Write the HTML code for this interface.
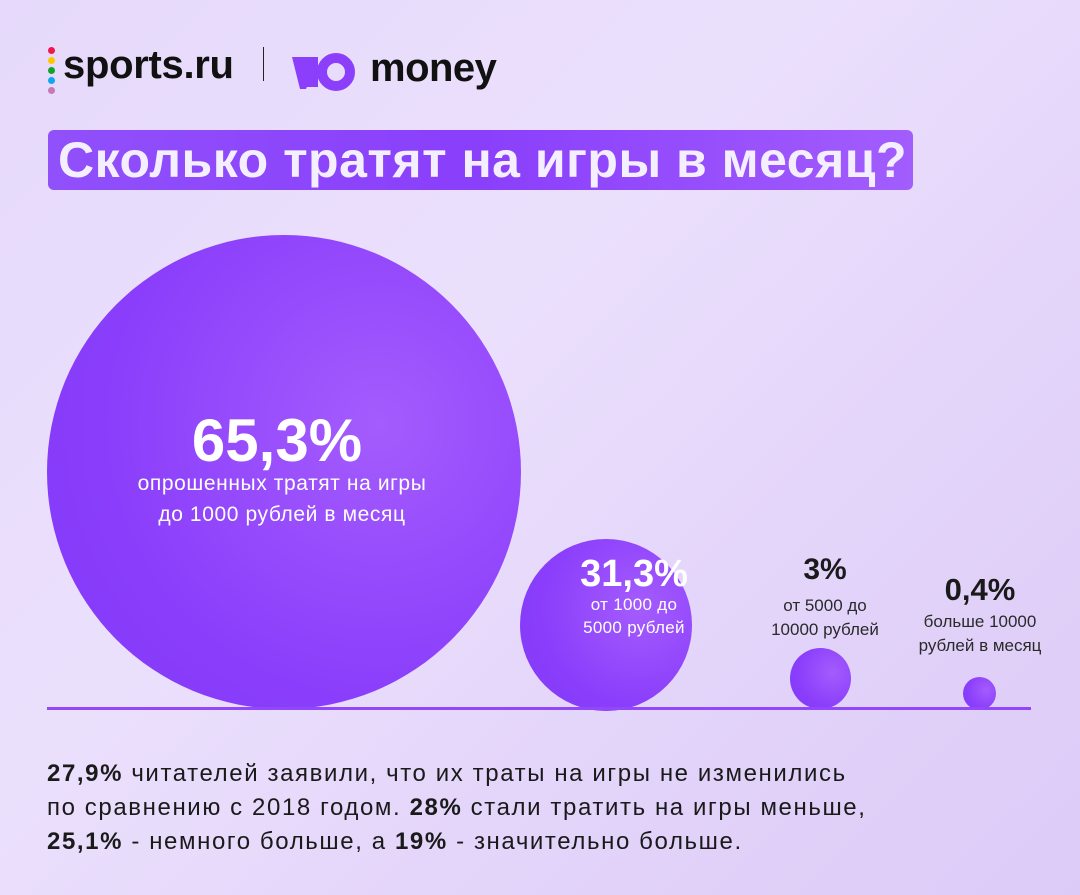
<!DOCTYPE html>
<html><head><meta charset="utf-8"><style>
body{margin:0;width:1080px;height:895px;overflow:hidden;font-family:"Liberation Sans",sans-serif;}
.bg{position:absolute;inset:0;background:linear-gradient(135deg,#e6d9fb 0%,#ebe0fc 40%,#e3d4fa 70%,#dccbf7 100%);}
.a{position:absolute;}
.c{position:absolute;border-radius:50%;background:radial-gradient(circle at 70% 40%,#a45cfd 0%,#8b3ffb 60%,#8037f9 100%);}
.t{position:absolute;text-align:center;}
</style></head><body><div class="bg"></div>
<div class="a" style="left:48px;top:47px;width:7px">
<div style="width:7px;height:7px;border-radius:50%;background:#f0174f;margin-bottom:3px"></div>
<div style="width:7px;height:7px;border-radius:50%;background:#fbc800;margin-bottom:3px"></div>
<div style="width:7px;height:7px;border-radius:50%;background:#12a429;margin-bottom:3px"></div>
<div style="width:7px;height:7px;border-radius:50%;background:#11a6f0;margin-bottom:3px"></div>
<div style="width:7px;height:7px;border-radius:50%;background:#c67ab2"></div></div>
<div class="a" style="left:63px;top:43px;font-size:40px;font-weight:bold;color:#111;letter-spacing:-0.3px">sports.ru</div>
<div class="a" style="left:263px;top:47px;width:1px;height:34px;background:#222"></div>
<svg class="a" style="left:292px;top:52px" width="66" height="44"><polygon points="0,5 14,5 20,25 14,37 8,37" fill="#8b3ffb"/><rect x="14" y="5" width="12" height="30" fill="#8b3ffb"/><circle cx="44" cy="20" r="14" fill="none" stroke="#8b3ffb" stroke-width="10"/></svg>
<div class="a" style="left:370px;top:46px;font-size:40px;font-weight:bold;color:#111;letter-spacing:-0.5px">money</div>
<div class="a" style="left:48px;top:130px;width:865px;height:60px;border-radius:6px;background:linear-gradient(90deg,#9050fb,#8a3ffb 50%,#a25dfd)"></div>
<div class="a" style="left:58px;top:130px;font-size:50px;line-height:60px;font-weight:bold;color:#f4efff;letter-spacing:0.5px">Сколько тратят на игры в месяц?</div>
<div class="c" style="left:47px;top:235px;width:474px;height:474px"></div>
<div class="c" style="left:520px;top:539px;width:172px;height:172px"></div>
<div class="c" style="left:790px;top:648px;width:61px;height:61px"></div>
<div class="c" style="left:963px;top:677px;width:33px;height:33px"></div>
<div class="a" style="left:47px;top:707px;width:984px;height:3px;background:#9347fb"></div>
<div class="t" style="left:77px;top:408px;width:400px;font-size:60px;font-weight:bold;color:#fff;line-height:66px">65,3%</div>
<div class="t" style="left:62px;top:468px;width:440px;font-size:21px;color:#fff;line-height:31px;letter-spacing:0.6px">опрошенных тратят на игры<br>до 1000 рублей в месяц</div>
<div class="t" style="left:548px;top:552px;width:172px;font-size:38px;font-weight:bold;color:#fff;line-height:44px">31,3%</div>
<div class="t" style="left:548px;top:593px;width:172px;font-size:17px;color:#fff;line-height:23px;letter-spacing:0.3px">от 1000 до<br>5000 рублей</div>
<div class="t" style="left:765px;top:552px;width:120px;font-size:30px;font-weight:bold;color:#1a1a1a;line-height:36px">3%</div>
<div class="t" style="left:755px;top:594px;width:140px;font-size:17px;color:#2a2a2a;line-height:24px">от 5000 до<br>10000 рублей</div>
<div class="t" style="left:905px;top:572px;width:150px;font-size:31px;font-weight:bold;color:#1a1a1a;line-height:36px">0,4%</div>
<div class="t" style="left:895px;top:610px;width:170px;font-size:17px;color:#2a2a2a;line-height:24px">больше 10000<br>рублей в месяц</div>
<div class="a" style="left:47px;top:757px;font-size:24px;line-height:34px;color:#1a1a1a;letter-spacing:1.6px">
<b>27,9%</b> читателей заявили, что их траты на игры не изменились<br>по сравнению с 2018 годом. <b>28%</b> стали тратить на игры меньше,<br><b>25,1%</b> - немного больше, а <b>19%</b> - значительно больше.</div>
</body></html>
